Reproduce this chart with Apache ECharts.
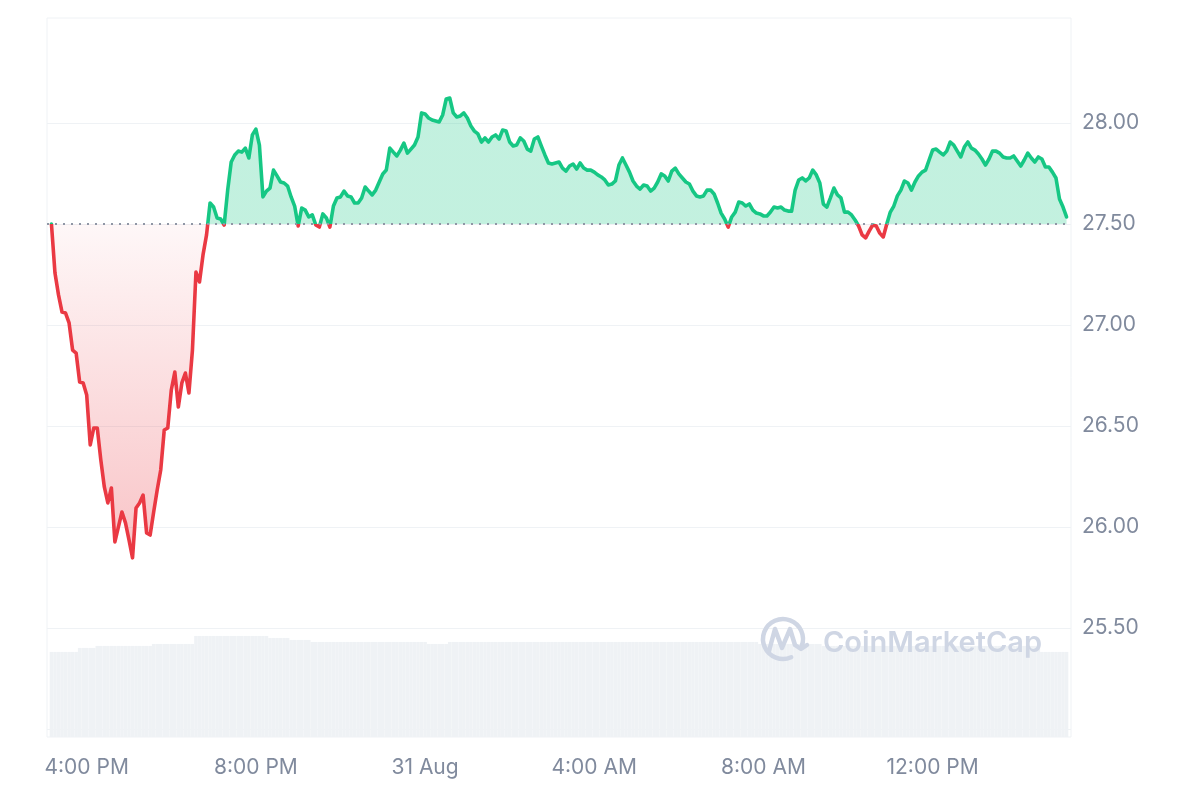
<!DOCTYPE html>
<html>
<head>
<meta charset="utf-8">
<script src="https://cdn.jsdelivr.net/npm/echarts@6/dist/echarts.min.js"></script>
<style>html,body{margin:0;padding:0;background:#fff}#c{width:1200px;height:800px}</style>
</head>
<body>
<div id="c"></div>
<script>
// ---- data ----
const startTime = [2024, 7, 30, 15, 10]; // 30 Aug, 3:10 PM (local)
const stepMinutes = 5;
const openPrice = 27.5;
const monthNames = ['Jan','Feb','Mar','Apr','May','Jun','Jul','Aug','Sep','Oct','Nov','Dec'];
const priceTickLabels = ['25.50','26.00','26.50','27.00','27.50','28.00'];

const prices = [
27.500,27.257,27.149,27.064,27.059,27.010,26.876,26.861,26.718,26.713,
26.653,26.406,26.490,26.490,26.332,26.198,26.119,26.193,25.926,26.000,
26.074,26.020,25.936,25.847,26.094,26.119,26.158,25.970,25.960,26.074,
26.183,26.282,26.480,26.490,26.678,26.767,26.594,26.713,26.762,26.663,
26.876,27.262,27.213,27.347,27.446,27.604,27.584,27.530,27.525,27.495,
27.668,27.807,27.842,27.861,27.856,27.876,27.827,27.941,27.970,27.891,
27.634,27.663,27.678,27.767,27.738,27.708,27.703,27.688,27.634,27.589,
27.490,27.579,27.569,27.535,27.545,27.495,27.485,27.550,27.530,27.485,
27.589,27.629,27.634,27.663,27.639,27.634,27.604,27.604,27.629,27.683,
27.663,27.644,27.668,27.708,27.748,27.767,27.876,27.856,27.837,27.866,
27.901,27.851,27.871,27.891,27.931,28.050,28.045,28.025,28.015,28.010,
28.005,28.040,28.119,28.124,28.050,28.030,28.035,28.050,28.025,27.985,
27.960,27.946,27.906,27.926,27.906,27.931,27.941,27.921,27.965,27.960,
27.906,27.886,27.891,27.926,27.911,27.871,27.861,27.921,27.931,27.886,
27.842,27.802,27.797,27.802,27.807,27.777,27.762,27.787,27.797,27.772,
27.802,27.777,27.767,27.767,27.757,27.743,27.733,27.718,27.693,27.698,
27.713,27.792,27.827,27.792,27.757,27.713,27.688,27.673,27.693,27.688,
27.663,27.678,27.708,27.748,27.738,27.713,27.762,27.777,27.748,27.728,
27.708,27.698,27.663,27.639,27.634,27.639,27.668,27.668,27.649,27.604,
27.554,27.525,27.485,27.535,27.559,27.609,27.604,27.589,27.599,27.569,
27.554,27.550,27.540,27.540,27.559,27.584,27.579,27.584,27.569,27.564,
27.564,27.668,27.718,27.728,27.713,27.728,27.767,27.743,27.703,27.599,
27.584,27.629,27.678,27.644,27.629,27.559,27.559,27.545,27.520,27.490,
27.446,27.431,27.465,27.495,27.490,27.455,27.436,27.500,27.559,27.589,
27.639,27.668,27.713,27.703,27.668,27.708,27.738,27.757,27.767,27.817,
27.866,27.871,27.856,27.842,27.861,27.906,27.891,27.861,27.832,27.881,
27.906,27.876,27.866,27.847,27.822,27.792,27.822,27.861,27.861,27.851,
27.832,27.827,27.827,27.837,27.812,27.787,27.817,27.851,27.827,27.807,
27.832,27.822,27.782,27.782,27.757,27.728,27.624,27.584,27.535
];

// 24h volume (millions USD, per 5-minute bucket)
const volumes = [
4.26,4.26,4.26,4.26,4.26,4.26,4.26,4.26,
4.46,4.46,4.46,4.46,4.46,
4.56,4.56,4.56,4.56,4.56,4.56,4.56,4.56,4.56,4.56,4.56,4.56,4.56,4.56,4.56,4.56,
4.66,4.66,4.66,4.66,4.66,4.66,4.66,4.66,4.66,4.66,4.66,4.66,
5.06,5.06,5.06,5.06,5.06,5.06,5.06,5.06,5.06,5.06,5.06,5.06,5.06,5.06,5.06,5.06,5.06,5.06,5.06,5.06,5.06,
4.96,4.96,4.96,4.96,4.96,4.96,
4.86,4.86,4.86,4.86,4.86,4.86,
4.76,4.76,4.76,4.76,4.76,4.76,4.76,4.76,4.76,4.76,4.76,4.76,4.76,4.76,4.76,4.76,4.76,4.76,4.76,4.76,4.76,4.76,4.76,4.76,4.76,4.76,4.76,4.76,4.76,4.76,4.76,4.76,4.76,
4.66,4.66,4.66,4.66,4.66,4.66,
4.76,4.76,4.76,4.76,4.76,4.76,4.76,4.76,4.76,4.76,4.76,4.76,4.76,4.76,4.76,4.76,4.76,4.76,4.76,4.76,4.76,4.76,
4.76,4.76,4.76,4.76,4.76,4.76,4.76,4.76,4.76,4.76,4.76,4.76,4.76,4.76,4.76,4.76,4.76,4.76,4.76,4.76,4.76,4.76,
4.76,4.76,4.76,4.76,4.76,4.76,4.76,4.76,4.76,4.76,4.76,4.76,4.76,4.76,4.76,4.76,4.76,4.76,4.76,4.76,4.76,4.76,
4.76,4.76,4.76,4.76,4.76,4.76,4.76,4.76,4.76,4.76,4.76,4.76,4.76,4.76,4.76,4.76,4.76,4.76,4.76,4.76,4.76,4.76,
4.66,4.66,4.66,4.66,4.66,4.66,4.66,4.66,4.66,4.66,4.66,4.66,4.66,4.66,4.66,4.66,4.66,4.66,
4.56,4.56,4.56,4.56,4.56,4.56,4.56,4.56,4.56,4.56,4.56,4.56,4.56,4.56,4.56,4.56,4.56,4.56,4.56,4.56,4.56,
4.56,4.56,4.56,4.56,4.56,4.56,4.56,4.56,4.56,4.56,4.56,4.56,4.56,4.56,4.56,4.56,4.56,4.56,4.56,4.56,4.56,
4.56,4.56,4.56,4.56,4.56,4.56,4.56,4.56,4.56,4.56,4.56,4.56,4.56,4.56,4.56,4.56,4.56,4.56,4.56,4.56,
4.26,4.26,4.26,4.26,4.26,4.26,4.26,4.26
];

// ---- build ----
const MIN = 60000;
const t0 = new Date(startTime[0], startTime[1], startTime[2], startTime[3], startTime[4]).getTime();
const times = prices.map((_, i) => t0 + i * stepMinutes * MIN);
const tEnd = times[times.length - 1];
const priceData = prices.map((p, i) => [times[i], p]);
const volData = volumes.slice(0, prices.length).map((v, i) => [times[i], v]);

const maxP = Math.max(...prices), minP = Math.min(...prices);
const f = (maxP - openPrice) / (maxP - minP);

function fmtTime(v) {
  const d = new Date(v);
  const h = d.getHours(), m = d.getMinutes();
  if (h === 0 && m === 0) return d.getDate() + ' ' + monthNames[d.getMonth()];
  const hh = h % 12 === 0 ? 12 : h % 12;
  return hh + ':' + String(m).padStart(2, '0') + ' ' + (h < 12 ? 'AM' : 'PM');
}

const labelColor = '#808a9d';
const gridColor = '#eff2f5';
const wm = '#cfd6e4';

const chart = echarts.init(document.getElementById('c'), null, {renderer: 'canvas'});
chart.setOption({
  animation: false,
  backgroundColor: '#ffffff',
  grid: {left: 47, right: 129, top: 18, bottom: 63, show: true, borderColor: gridColor, borderWidth: 1, backgroundColor: 'transparent'},
  xAxis: {
    type: 'time',
    min: t0 - 3.8 * MIN,
    max: tEnd + 3.8 * MIN,
    splitNumber: 6,
    minInterval: 4 * 60 * MIN,
    maxInterval: 4 * 60 * MIN,
    axisLine: {show: false},
    axisTick: {show: false},
    splitLine: {show: false},
    axisLabel: {color: labelColor, fontSize: 21, margin: 20, fontFamily: 'Inter', formatter: fmtTime, showMinLabel: false, showMaxLabel: false}
  },
  yAxis: [{
    type: 'value',
    position: 'right',
    min: 24.96,
    max: 28.52,
    splitNumber: 7,
    axisLine: {show: false},
    axisTick: {show: false},
    splitLine: {
      lineStyle: {color: [gridColor, gridColor, gridColor, gridColor, gridColor, gridColor, gridColor, 'rgba(0,0,0,0)'], width: 1},
      showMinLine: false, showMaxLine: false
    },
    axisLabel: {
      color: labelColor, fontSize: 21, margin: 11, fontFamily: 'Inter',
      showMinLabel: false, showMaxLabel: false,
      formatter: v => { const s = v.toFixed(2); return priceTickLabels.indexOf(s) >= 0 ? s : ''; }
    }
  }, {
    type: 'value', min: 0, max: 36, show: false, splitLine: {show: false}
  }],
  visualMap: {
    show: false, type: 'piecewise', seriesIndex: 0, dimension: 1,
    pieces: [{gte: 0, lte: openPrice, color: '#ea3943'}, {gt: openPrice, lte: 1000, color: '#16c784'}]
  },
  series: [{
    type: 'line',
    data: priceData,
    showSymbol: false,
    lineStyle: {width: 3.6, join: 'round', cap: 'round'},
    z: 3,
    areaStyle: {
      origin: openPrice,
      opacity: 1,
      color: {type: 'linear', x: 0, y: 0, x2: 0, y2: 1, colorStops: [
        {offset: 0, color: 'rgba(22,199,132,0.26)'},
        {offset: f, color: 'rgba(22,199,132,0.26)'},
        {offset: f, color: 'rgba(234,57,67,0.04)'},
        {offset: 1, color: 'rgba(234,57,67,0.30)'}
      ]}
    },
    markLine: {
      silent: true, symbol: 'none', animation: false,
      label: {show: false},
      lineStyle: {type: [2, 6], color: '#8f96a5', width: 2},
      emphasis: {disabled: true},
      data: [{yAxis: openPrice}]
    }
  }, {
    type: 'bar',
    yAxisIndex: 1,
    data: volData,
    barCategoryGap: '0%',
    barGap: '0%',
    itemStyle: {color: gridColor},
    silent: true,
    z: 1
  }],
  graphic: [
    {type: 'group', x: 760, y: 616, silent: true, z: 100, children: [
      {type: 'arc', z: 100, shape: {cx: 23, cy: 23, r: 20, startAngle: 1.15, endAngle: 6.65, clockwise: true},
       style: {stroke: wm, lineWidth: 4.5, fill: null, lineCap: 'round'}},
      {type: 'polyline', z: 100, shape: {points: [[9, 35], [15, 13], [22, 32], [30, 13], [35, 29], [41, 33], [47, 29]]},
       style: {stroke: wm, lineWidth: 4.5, fill: null, lineJoin: 'round', lineCap: 'round'}}
    ]},
    {type: 'text', x: 823, y: 643, silent: true, z: 100,
     style: {text: 'CoinMarketCap', fill: wm, font: '600 29px Inter', verticalAlign: 'middle'}}
  ]
});
</script>
</body>
</html>
